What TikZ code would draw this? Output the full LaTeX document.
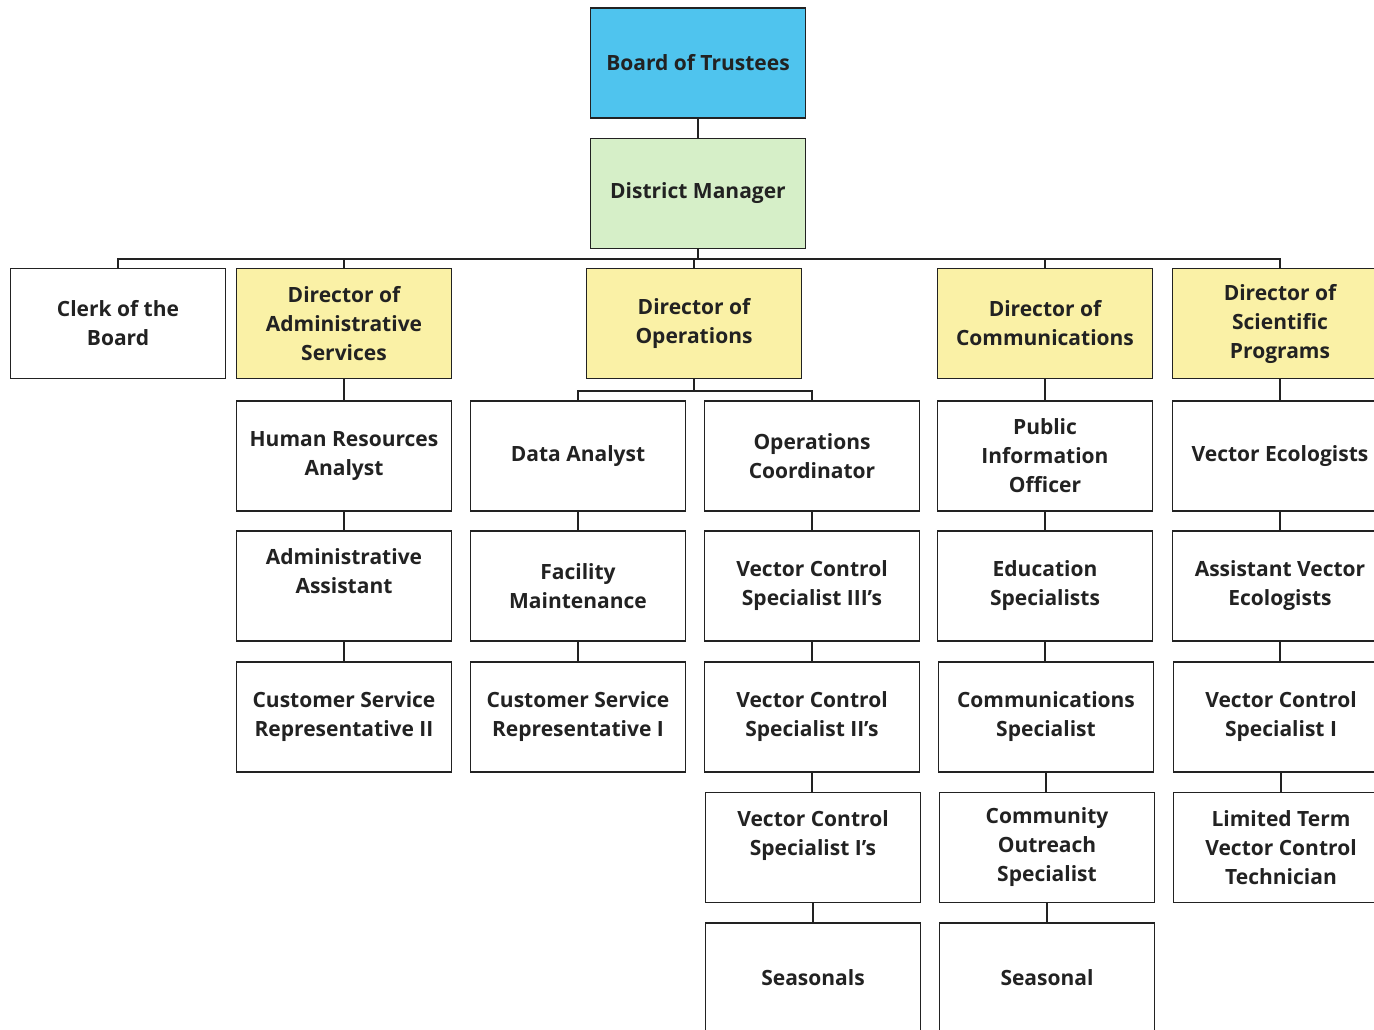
\documentclass[tikz,border=0pt]{standalone}
\usepackage{fontspec}
\setmainfont{Open Sans}
\definecolor{cyanbox}{HTML}{4FC4EE}
\definecolor{greenbox}{HTML}{D6EFC8}
\definecolor{yellowbox}{HTML}{FAF1A6}
\definecolor{inkc}{HTML}{222222}
\begin{document}
\begin{tikzpicture}[x=1pt,y=-1pt,
  box/.style={draw=inkc, line width=1.9pt, minimum width=215pt, minimum height=110pt,
    align=center, inner sep=0pt, text=inkc,
    font=\bfseries\fontsize{21}{29}\selectfont},
  topbox/.style={box, fill=cyanbox},
  mgrbox/.style={box, fill=greenbox},
  dirbox/.style={box, fill=yellowbox},
  link/.style={draw=inkc, line width=2.6pt}]
\useasboundingbox (0,0) rectangle (1374,1029);
\clip (0,0) rectangle (1374,1029);

% top
\node[topbox] (bot) at (698,63) {Board of Trustees};
\node[mgrbox] (dm) at (698,193.5) {District Manager};

% row 1
\node[box]    (clerk) at (118,323.5) {Clerk of the\\Board};
\node[dirbox] (das) at (344,323.5) {Director of\\Administrative\\Services};
\node[dirbox] (dop) at (694,323.5) {Director of\\Operations};
\node[dirbox] (dco) at (1045,323.5) {Director of\\Communications};
\node[dirbox] (dsp) at (1280,323.5) {Director of\\Scientific\\Programs};

% row 2
\node[box] (hr)  at (344,456) {Human Resources\\Analyst};
\node[box] (da)  at (578,456) {Data Analyst};
\node[box] (oc)  at (812,456) {Operations\\Coordinator};
\node[box] (pio) at (1045,456) {Public\\Information\\Officer};
\node[box] (ve)  at (1280,456) {Vector Ecologists};

% row 3
\node[box] (aa)  at (344,586) {Administrative\\Assistant\\\mbox{}};
\node[box] (fm)  at (578,586) {Facility\\Maintenance};
\node[box] (vc3) at (812,586) {Vector Control\\Specialist III's};
\node[box] (es)  at (1045,586) {Education\\Specialists};
\node[box] (ave) at (1280,586) {Assistant Vector\\Ecologists};

% row 4
\node[box] (csr2) at (344,717) {Customer Service\\Representative II};
\node[box] (csr1) at (578,717) {Customer Service\\Representative I};
\node[box] (vc2)  at (812,717) {Vector Control\\Specialist II's};
\node[box] (cs)   at (1046,717) {Communications\\Specialist};
\node[box] (vcs1) at (1281,717) {Vector Control\\Specialist I};

% row 5
\node[box] (vc1) at (813,847.5) {Vector Control\\Specialist I's\\\mbox{}};
\node[box] (cos) at (1047,847.5) {Community\\Outreach\\Specialist};
\node[box] (lt)  at (1281,847.5) {Limited Term\\Vector Control\\Technician};

% row 6
\node[box] (sea)  at (813,978) {Seasonals};
\node[box] (seal) at (1047,978) {Seasonal};

% connectors
\coordinate (bus) at (0,259);
\coordinate (bus2) at (0,391);
\draw[link] (bot.south) -- (bot.south |- dm.north);
\draw[link] (dm.south) -- (dm.south |- bus);
\draw[link] (clerk.north) -- (clerk.north |- bus) -- (dsp.north |- bus) -- (dsp.north);
\draw[link] (das.north) -- (das.north |- bus);
\draw[link] (dop.north) -- (dop.north |- bus);
\draw[link] (dco.north) -- (dco.north |- bus);

\draw[link] (dop.south) -- (dop.south |- bus2);
\draw[link] (da.north) -- (da.north |- bus2) -- (oc.north |- bus2) -- (oc.north);

\draw[link] (das.south) -- (das.south |- hr.north);
\draw[link] (hr.south) -- (hr.south |- aa.north);
\draw[link] (aa.south) -- (aa.south |- csr2.north);

\draw[link] (da.south) -- (da.south |- fm.north);
\draw[link] (fm.south) -- (fm.south |- csr1.north);

\draw[link] (oc.south) -- (oc.south |- vc3.north);
\draw[link] (vc3.south) -- (vc3.south |- vc2.north);
\draw[link] (vc2.south) -- (vc2.south |- vc1.north);
\draw[link] (vc1.south) -- (vc1.south |- sea.north);

\draw[link] (dco.south) -- (dco.south |- pio.north);
\draw[link] (pio.south) -- (pio.south |- es.north);
\draw[link] (es.south) -- (es.south |- cs.north);
\draw[link] (cs.south) -- (cs.south |- cos.north);
\draw[link] (cos.south) -- (cos.south |- seal.north);

\draw[link] (dsp.south) -- (dsp.south |- ve.north);
\draw[link] (ve.south) -- (ve.south |- ave.north);
\draw[link] (ave.south) -- (ave.south |- vcs1.north);
\draw[link] (vcs1.south) -- (vcs1.south |- lt.north);
\end{tikzpicture}
\end{document}
